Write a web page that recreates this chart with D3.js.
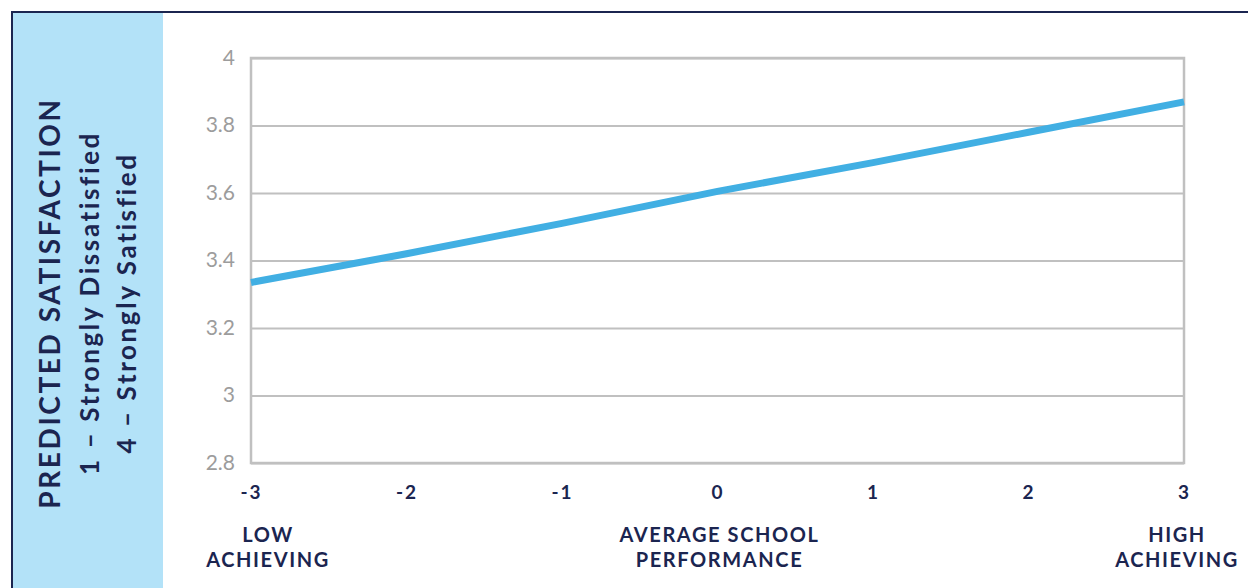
<!DOCTYPE html>
<html>
<head>
<meta charset="utf-8">
<script src="https://cdn.jsdelivr.net/npm/d3@7"></script>
<style>
  html, body { margin: 0; padding: 0; background: #ffffff; }
  svg { display: block; }
</style>
</head>
<body>
<svg id="chart" width="1248" height="588"></svg>
<script>
// School performance (standardised) and predicted satisfaction
const performance = [-3, -2, -1, 0, 1, 2, 3];
const satisfaction = [3.335, 3.42, 3.51, 3.605, 3.69, 3.78, 3.87];
const yTicks = [2.8, 3, 3.2, 3.4, 3.6, 3.8, 4];
const xTicks = [-3, -2, -1, 0, 1, 2, 3];
const bandLabels = [
  { x: -3, lines: ["LOW", "ACHIEVING"] },
  { x: 0, lines: ["AVERAGE SCHOOL", "PERFORMANCE"] },
  { x: 3, lines: ["HIGH", "ACHIEVING"] }
];
const titleLines = ["PREDICTED SATISFACTION", "1 \u2013 Strongly Dissatisfied", "4 \u2013 Strongly Satisfied"];

const navy = "#1b2550";
const gridGrey = "#c0c0c0";
const font = "Lato, 'Open Sans', sans-serif";

const svg = d3.select("#chart");

// Frame and side panel
svg.append("rect").attr("x", 13).attr("y", 13).attr("width", 150).attr("height", 588)
  .attr("fill", "#b3e2f8");
svg.append("line").attr("x1", 12).attr("x2", 1248).attr("y1", 12).attr("y2", 12)
  .attr("stroke", navy).attr("stroke-width", 2);
svg.append("line").attr("x1", 12).attr("x2", 12).attr("y1", 11).attr("y2", 588)
  .attr("stroke", navy).attr("stroke-width", 2);

const plot = { left: 251, right: 1184, top: 58, bottom: 463 };

const x = d3.scaleLinear().domain([-3, 3]).range([plot.left, plot.right]);
const y = d3.scaleLinear().domain([2.8, 4]).range([plot.bottom, plot.top]);

// Horizontal gridlines
const yAxis = d3.axisLeft(y).tickValues(yTicks).tickSize(-(plot.right - plot.left))
  .tickPadding(16).tickFormat(d => String(d));
const gy = svg.append("g").attr("transform", `translate(${plot.left},0)`).call(yAxis);
gy.select(".domain").remove();
gy.selectAll(".tick line").attr("stroke", gridGrey).attr("stroke-width", 2);
gy.selectAll(".tick text").attr("fill", "#9c9c9c").attr("font-family", font)
  .attr("font-size", 21).attr("font-weight", 400).attr("dy", "0.3em");

// Plot border
svg.append("rect").attr("x", plot.left).attr("y", plot.top)
  .attr("width", plot.right - plot.left).attr("height", plot.bottom - plot.top)
  .attr("fill", "none").attr("stroke", gridGrey).attr("stroke-width", 2.5);

// X tick labels
const xAxis = d3.axisBottom(x).tickValues(xTicks).tickSize(0).tickPadding(23)
  .tickFormat(d => String(d));
const gx = svg.append("g").attr("transform", `translate(0,${plot.bottom})`).call(xAxis);
gx.select(".domain").remove();
gx.selectAll(".tick text").attr("fill", navy).attr("font-family", font)
  .attr("font-size", 19).attr("font-weight", 700).attr("letter-spacing", 2);

// Fitted line
const line = d3.line().x((d, i) => x(performance[i])).y(d => y(d));
svg.append("path").datum(satisfaction).attr("d", line)
  .attr("fill", "none").attr("stroke", "#41afe3").attr("stroke-width", 7);

// Descriptive labels under the axis
bandLabels.forEach(b => {
  const t = svg.append("text").attr("text-anchor", "middle").attr("fill", navy)
    .attr("font-family", font).attr("font-size", 20).attr("font-weight", 700)
    .attr("letter-spacing", 1.6);
  b.lines.forEach((ln, i) => {
    t.append("tspan").attr("x", x(b.x) + (b.x === 3 ? -7 : b.x === -3 ? 17 : 2))
      .attr("y", 542 + i * 25).text(ln);
  });
});

// Rotated axis title
const title = svg.append("g").attr("transform", "translate(0,303) rotate(-90)");
titleLines.forEach((ln, i) => {
  title.append("text").attr("x", 0).attr("y", [60, 99, 136][i])
    .attr("text-anchor", "middle").attr("fill", navy).attr("font-family", font)
    .attr("font-size", i === 0 ? 28 : 26).attr("font-weight", 700)
    .attr("letter-spacing", i === 0 ? 2.6 : 2.6).text(ln);
});
</script>
</body>
</html>
